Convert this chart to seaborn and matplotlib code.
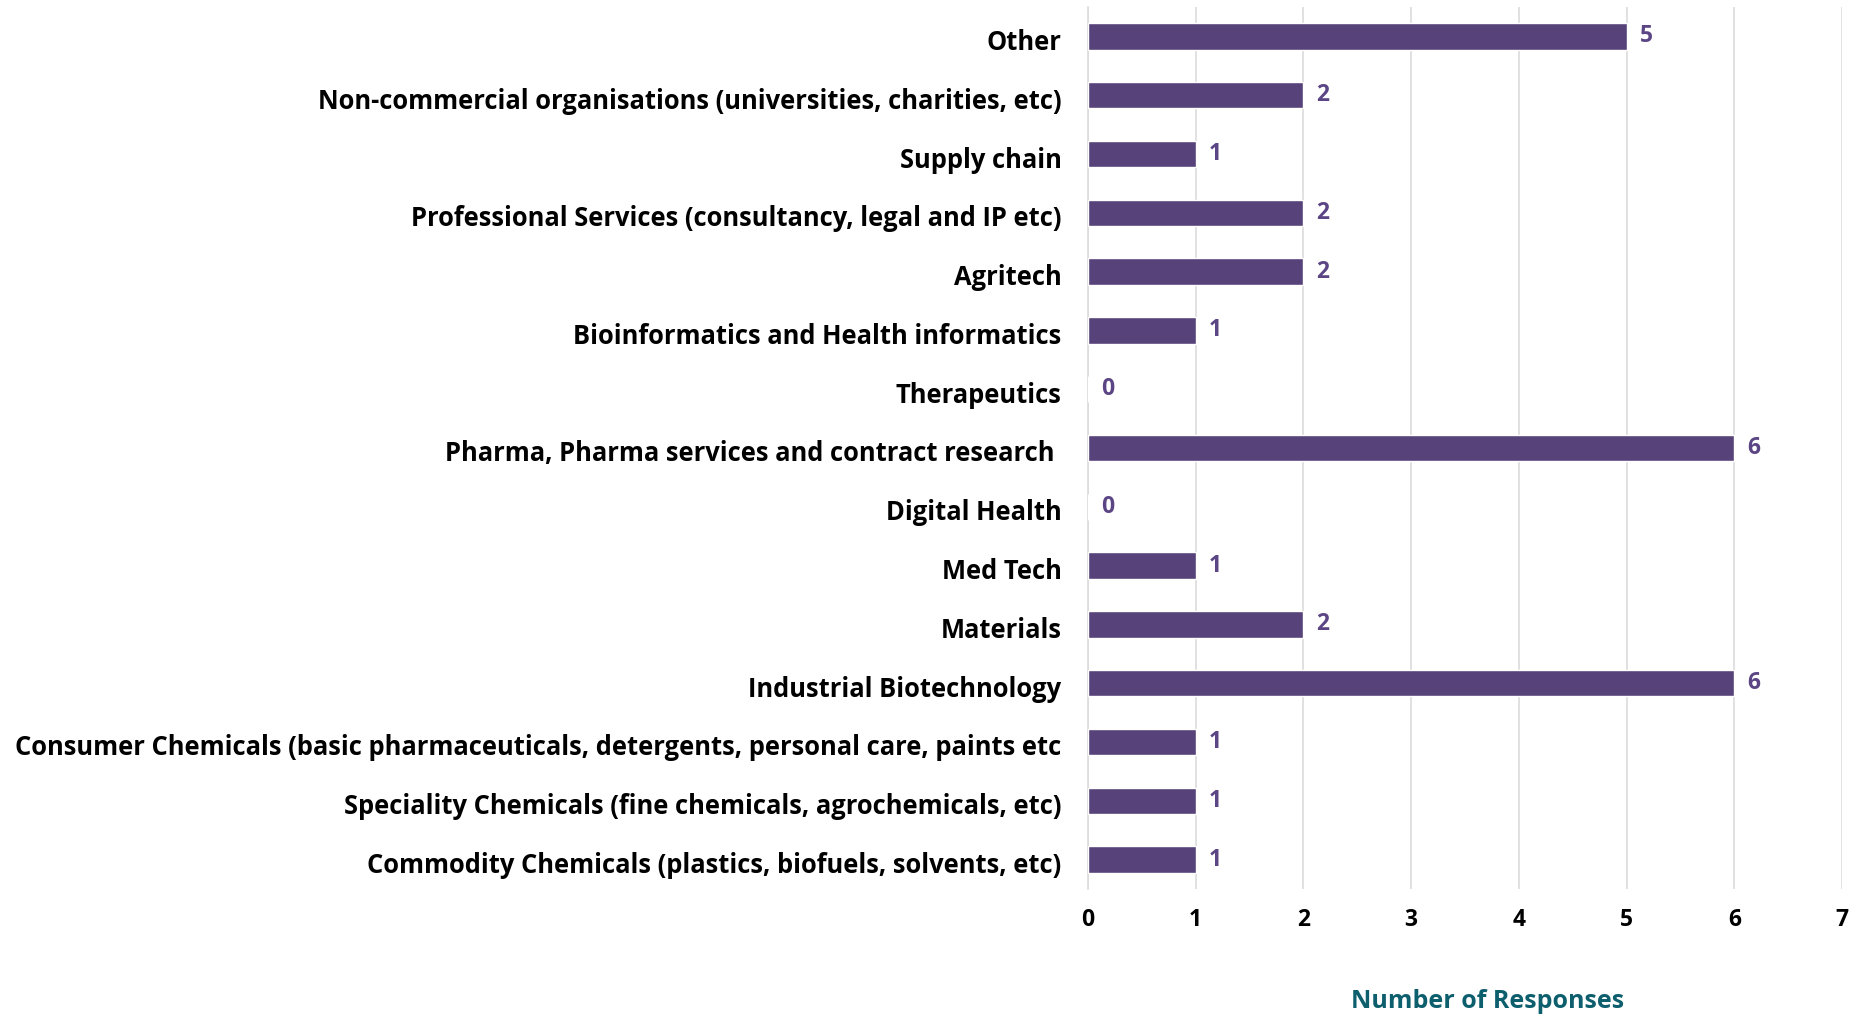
import matplotlib
matplotlib.use('Agg')
from matplotlib import pyplot as plt
import matplotlib.transforms as mtrans
import seaborn as sns
import pandas as pd
import numpy as np

# categories top to bottom
categories = [
    'Other',
    'Non-commercial organisations (universities, charities, etc)',
    'Supply chain',
    'Professional Services (consultancy, legal and IP etc)',
    'Agritech',
    'Bioinformatics and Health informatics',
    'Therapeutics',
    'Pharma, Pharma services and contract research ',
    'Digital Health',
    'Med Tech',
    'Materials',
    'Industrial Biotechnology',
    'Consumer Chemicals (basic pharmaceuticals, detergents, personal care, paints etc',
    'Speciality Chemicals (fine chemicals, agrochemicals, etc)',
    'Commodity Chemicals (plastics, biofuels, solvents, etc)',
]
responses = [5, 2, 1, 2, 2, 1, 0, 6, 0, 1, 2, 6, 1, 1, 1]
xticks = [0, 1, 2, 3, 4, 5, 6, 7]

barColor = '#574279'
labelColor = '#5b4585'
axisLabelColor = '#0e5f6e'

sns.set_style('white')
plt.rcParams['font.family'] = ['Open Sans', 'DejaVu Sans']

df = pd.DataFrame({'category': categories, 'responses': responses})

fig = plt.figure(figsize=(18.61, 10.16), dpi=100)
ax = fig.add_axes([1088 / 1861, 1 - 889 / 1016, (1842 - 1088) / 1861, (889 - 7) / 1016])

sns.barplot(data=df, x='responses', y='category', color=barColor, width=0.45,
            saturation=1, ax=ax, zorder=3)

ax.set_xlim(0, 7)
ax.set_ylim(len(categories) - 0.5, -0.5)
ax.set_xticks(xticks)
ax.set_xticklabels([str(t) for t in xticks], fontsize=16.5, fontweight='bold', color='black')
ax.tick_params(axis='x', length=0, pad=14)
ax.grid(axis='x', color='#dcdcdc', linewidth=1.2, zorder=0)
ax.set_axisbelow(True)

# y labels, nudged down a touch like the original
ax.set_yticks(range(len(categories)))
ax.set_yticklabels(categories, fontsize=18.4, fontweight='bold', color='black')
ax.tick_params(axis='y', which='major', length=0, pad=19)
shift = mtrans.ScaledTranslation(0, -3 / 100, fig.dpi_scale_trans)
for lbl in ax.get_yticklabels():
    lbl.set_transform(lbl.get_transform() + shift)
ax.set_yticks(np.arange(-0.5, len(categories), 1), minor=True)
ax.tick_params(axis='y', which='minor', length=6, color='#dcdcdc', width=1.2)

for side in ['top', 'right', 'bottom']:
    ax.spines[side].set_visible(False)
ax.spines['left'].set_color('#dcdcdc')
ax.spines['left'].set_linewidth(1.2)

# value labels
for i, v in enumerate(responses):
    ax.text(v + 0.12, i, str(v), va='center', ha='left', fontsize=16.5,
            fontweight='bold', color=labelColor)

ax.set_ylabel('')
ax.set_xlabel('Number of Responses', fontsize=18, fontweight='bold',
              color=axisLabelColor, va='center')
ax.xaxis.set_label_coords(0.53, -0.127)

fig.savefig('out.png', dpi=100)
